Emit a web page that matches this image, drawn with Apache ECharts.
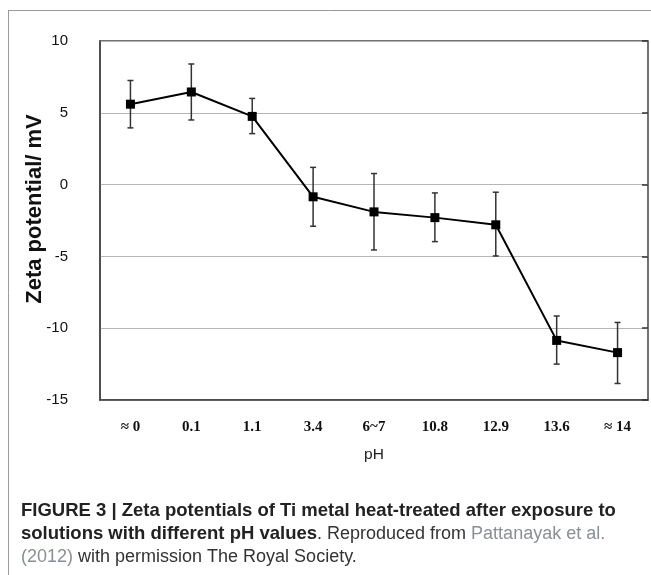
<!DOCTYPE html>
<html><head><meta charset="utf-8">
<script src="https://cdn.jsdelivr.net/npm/echarts@6/dist/echarts.min.js"></script>
<style>html,body{margin:0;padding:0;background:#fff}#c{width:651px;height:575px}</style>
</head><body><div id="c"></div>
<script>
const categories = ['≈ 0','0.1','1.1','3.4','6~7','10.8','12.9','13.6','≈ 14'];
const zeta = [5.6, 6.45, 4.75, -0.85, -1.9, -2.3, -2.8, -10.85, -11.7];
const errUpper = [7.25, 8.4, 6.0, 1.2, 0.77, -0.58, -0.53, -9.15, -9.6];
const errLower = [3.95, 4.5, 3.55, -2.9, -4.55, -3.97, -4.97, -12.5, -13.85];
const yTicks = [10, 5, 0, -5, -10, -15];

const chart = echarts.init(document.getElementById('c'), null, {renderer:'canvas'});
const errData = categories.map((c,i)=>[i, errLower[i], errUpper[i]]);
chart.setOption({
  animation:false,
  grid:{left:100, top:41, right:3, bottom:175, show:true, borderColor:'#444', borderWidth:1.5},
  xAxis:{type:'category', data:categories, boundaryGap:true,
    axisLine:{show:true, onZero:false, lineStyle:{color:'#444', width:1.5}},
    axisTick:{show:false},
    axisLabel:{margin:20, color:'#111', fontFamily:'Liberation Serif', fontWeight:'bold', fontSize:15},
    name:'pH', nameLocation:'middle', nameGap:47,
    nameTextStyle:{color:'#222', fontFamily:'Liberation Sans', fontSize:15.5}},
  yAxis:[{type:'value', min:-15, max:10, interval:5,
    axisLine:{show:true, lineStyle:{color:'#444', width:1.5}},
    axisTick:{show:false},
    splitLine:{show:true, lineStyle:{color:'#b5b5b5', width:1}},
    axisLabel:{margin:32, color:'#111', fontFamily:'Liberation Sans', fontSize:15,
      formatter:v=>yTicks.includes(v)?String(v):''}},
   {type:'value', min:-15, max:10, interval:5, position:'right',
    axisLine:{show:false}, axisLabel:{show:false}, splitLine:{show:false},
    axisTick:{show:true, inside:true, length:6, lineStyle:{color:'#333', width:1.5}}}],
  series:[
    {type:'custom', data:errData, z:3,
     renderItem:function(params, api){
       const x = api.coord([api.value(0), api.value(1)])[0];
       const lo = api.coord([api.value(0), api.value(1)])[1];
       const hi = api.coord([api.value(0), api.value(2)])[1];
       const w = 3;
       const st = {stroke:'#333', lineWidth:1.5};
       return {type:'group', children:[
         {type:'line', shape:{x1:x,y1:lo,x2:x,y2:hi}, style:st},
         {type:'line', shape:{x1:x-w,y1:lo,x2:x+w,y2:lo}, style:st},
         {type:'line', shape:{x1:x-w,y1:hi,x2:x+w,y2:hi}, style:st}
       ]};
     }},
    {type:'line', data:zeta, z:4, symbol:'rect', symbolSize:9,
     lineStyle:{color:'#000', width:2}, itemStyle:{color:'#000'}}
  ],
  graphic:[
    {type:'line', shape:{x1:8,y1:10.5,x2:651,y2:10.5}, style:{stroke:'#9a9a9a', lineWidth:1}},
    {type:'line', shape:{x1:8.5,y1:10,x2:8.5,y2:575}, style:{stroke:'#9a9a9a', lineWidth:1}},
    {type:'text', x:35, y:209, rotation:Math.PI/2, style:{
      text:'Zeta potential/ mV', align:'center', verticalAlign:'middle',
      fontFamily:'Liberation Sans', fontWeight:'bold', fontSize:22, fill:'#111'}},
    {type:'text', left:21, top:501, style:{
      text:'{b|FIGURE 3 | Zeta potentials of Ti metal heat-treated after exposure to}\n{b|solutions with different pH values}{n|. Reproduced from }{l|Pattanayak et al.}\n{l|(2012)}{n| with permission The Royal Society.}',
      rich:{
        b:{fontFamily:'Liberation Sans', fontWeight:'bold', fontSize:18.5, fill:'#222', lineHeight:23.5},
        n:{fontFamily:'Liberation Sans', fontSize:18, fill:'#333', lineHeight:23.5},
        l:{fontFamily:'Liberation Sans', fontSize:18, fill:'#8a8f96', lineHeight:23.5}
      }}}
  ]
});
</script></body></html>
